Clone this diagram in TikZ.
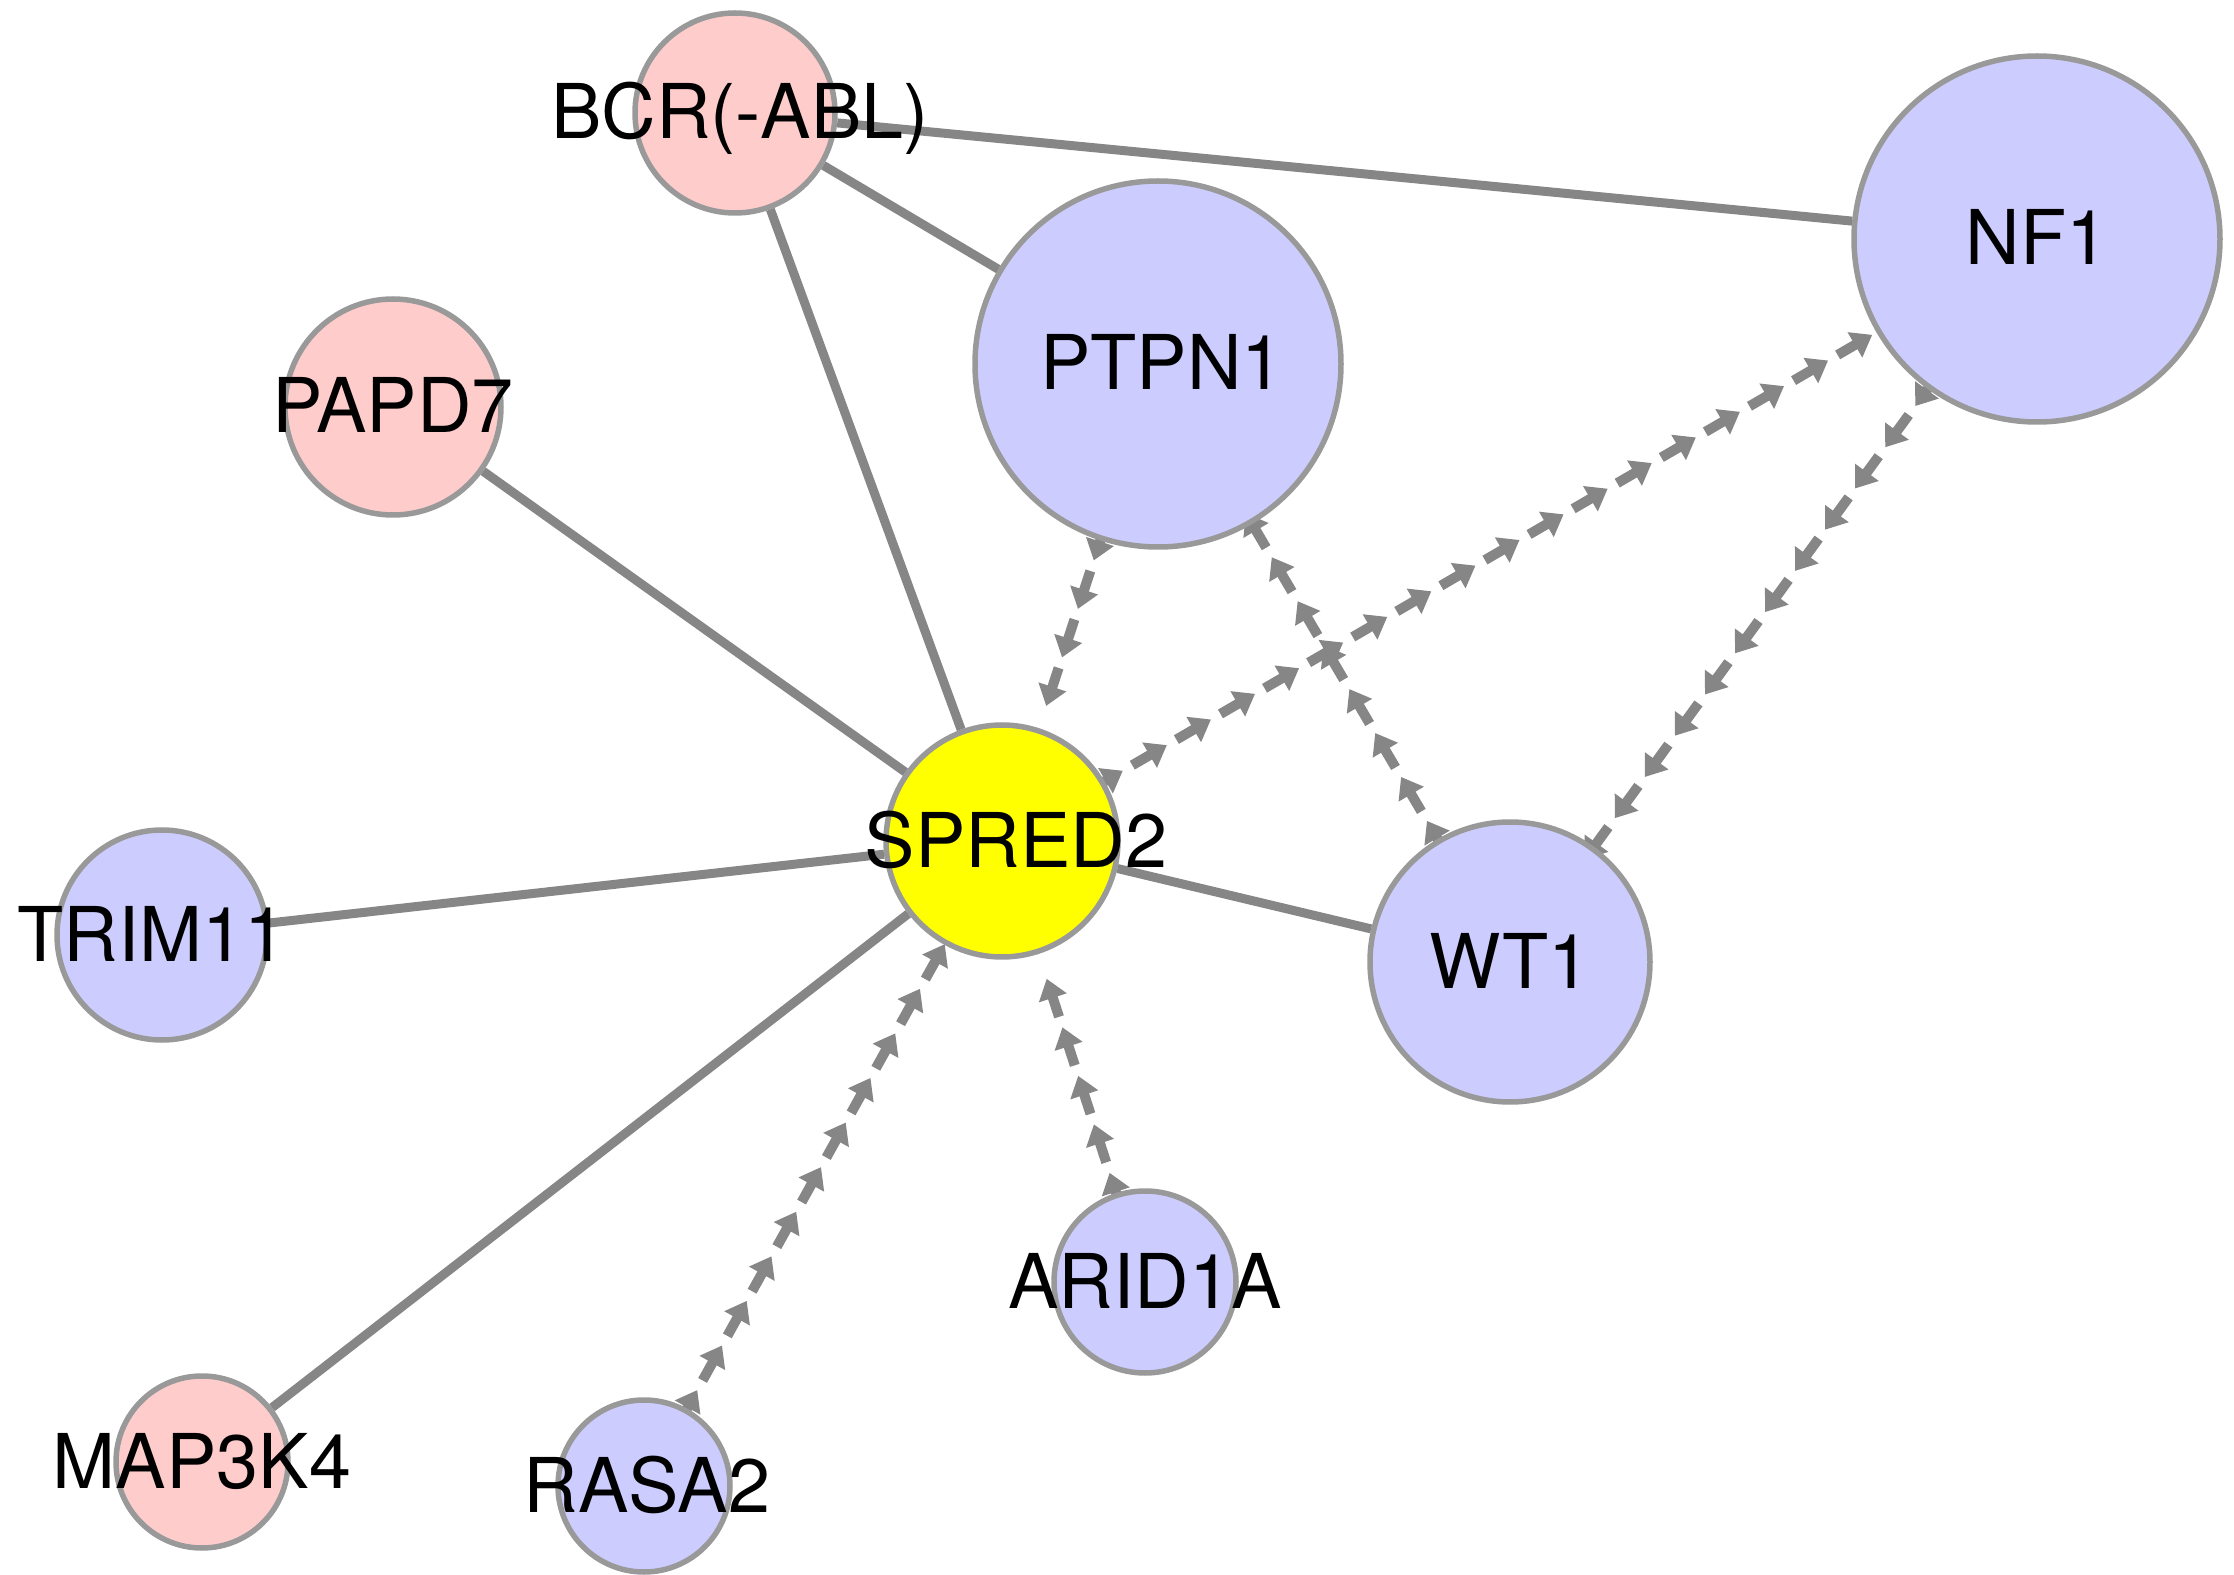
\documentclass[tikz,border=0pt]{standalone}
\usepackage{fontspec}
\setmainfont{TeX Gyre Heros}
\usetikzlibrary{arrows.meta,decorations.markings}
\pgfdeclarelayer{background}
\pgfsetlayers{background,main}
\definecolor{genepink}{HTML}{FFCCCC}
\definecolor{geneblue}{HTML}{CCCCFF}
\definecolor{geneyellow}{HTML}{FFFF00}
\definecolor{rimgray}{HTML}{999999}
\definecolor{edgegray}{HTML}{868686}
\tikzset{
  gene/.style={circle, draw=rimgray, line width=0.55mm, inner sep=0pt},
  glabel/.style={anchor=base, yshift=-2.6mm, font=\fontsize{21.5}{25}\selectfont},
  link/.style={draw=edgegray, line width=0.9mm},
  % #1 = how far before the target centre the train stops
  flow/.style={decorate, decoration={markings,
      mark=between positions 2.1mm and -#1 step 5.1mm with
        {\draw[edgegray, line width=1mm, -{Triangle[length=2mm,width=2.8mm]}] (-4mm,0) -- (0,0);}}},
}
\begin{document}
\begin{tikzpicture}[x=0.1mm, y=-0.1mm]
\useasboundingbox (0,0) rectangle (2234,1575);

% genes
\foreach \n/\x/\y/\d/\c in {bcr/735/113/20/genepink, papd7/393/407/21.6/genepink,
    trim11/162/935/21/geneblue, map3k4/202/1462/17.2/genepink, rasa2/644/1486/17.2/geneblue,
    arid1a/1145/1282/18.2/geneblue, spred2/1002/841/23.2/geneyellow, wt1/1510/962/28/geneblue,
    ptpn1/1158/364/36.6/geneblue, nf1/2037/239/36.6/geneblue}
  \node[gene, fill=\c, minimum size=\d mm] (\n) at (\x,\y) {};

% plain links
\draw[link] (bcr) -- (nf1);
\draw[link] (bcr) -- (ptpn1);
\draw[link] (bcr) -- (spred2);
\draw[link] (papd7) -- (spred2);
\draw[link] (trim11) -- (spred2);
\draw[link] (map3k4) -- (spred2);
\draw[link] (spred2) -- (wt1);

% arrow trains (under the circles)
\begin{pgfonlayer}{background}
\path[flow=10.2mm] (ptpn1) -- (spred2.center);
\path[flow=16.9mm] (spred2) -- (nf1.center);
\path[flow=16.9mm] (wt1) -- (ptpn1.center);
\path[flow=12.6mm] (nf1) -- (wt1.center);
\path[flow=10.2mm] (rasa2) -- (spred2.center);
\path[flow=10.2mm] (arid1a) -- (spred2.center);
\end{pgfonlayer}

% names
\foreach \n/\t/\dx in {bcr/{BCR(-ABL)}/0.5, papd7/PAPD7/0, trim11/TRIM11/-1, map3k4/MAP3K4/0,
    rasa2/RASA2/0.3, arid1a/ARID1A/0, spred2/SPRED2/1.4, wt1/WT1/0, ptpn1/PTPN1/0.4, nf1/NF1/0}
  \node[glabel, xshift=\dx mm] at (\n) {\t};
\end{tikzpicture}
\end{document}
